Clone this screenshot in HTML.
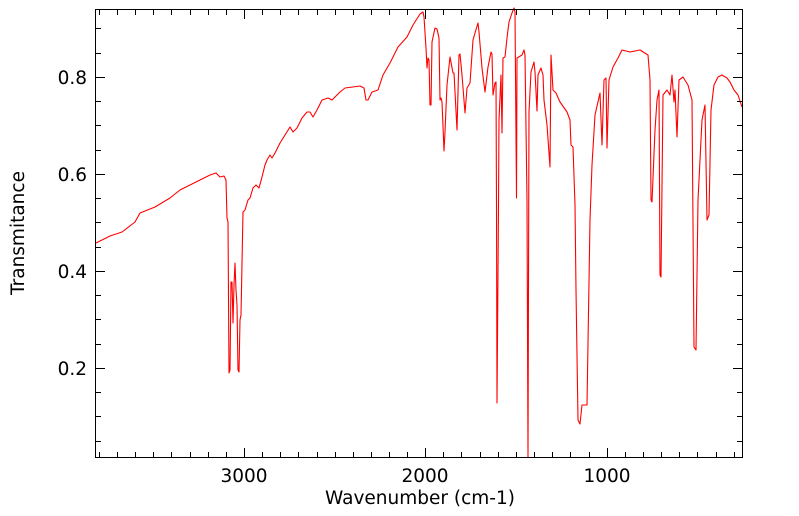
<!DOCTYPE html>
<html><head><style>body{margin:0;background:#fff}svg{display:block}text{font-family:"DejaVu Sans","Liberation Sans",sans-serif;fill:#000}</style></head><body>
<svg width="799" height="516" viewBox="0 0 799 516" xmlns="http://www.w3.org/2000/svg">
<rect width="799" height="516" fill="#fff"/>
<polyline fill="none" stroke="#f00" stroke-width="1.1" stroke-linejoin="round" points="
96,243 110,236 122,232 135,222 140,213 155,207 170,198 180,190 190,185 200,180 210,175 216,173 220,177 224,176 226,180 227,218 228,222 229,373 230,370 231,282 232,282 233,323 234,285 235,263 236,290 237,305 238,370 239,372 240,320 241,315 243,212 245,210 248,200 250,198 253,188 256,185 259,188 262,177 265,165 267,160 270,155 272,158 275,153 280,143 285,135 290,127 293,132 297,128 302,118 307,112 310,112 313,117 317,110 322,100 328,98 332,100 340,92 345,88 360,86 364,88 366,100 368,100 372,92 378,90 383,75 390,63 398,47 407,37 413,25 420,14 423,12 424,17 426,48 427,68 428,58 429,60 430,105 431,105 432,42 435,28 437,29 439,38 440,100 441,98 442,102 444,151 445,132 447,85 450,57 453,73 454,73 457,130 459,55 460,54 462,75 465,113 467,88 470,83 473,40 475,33 478,23 479,32 482,68 485,92 488,67 491,52 492,54 493,95 495,83 496,82 496.5,205 497,403 498.5,205 499,120 501,75 502,133 503,58 505,57 507,38 509,22 512,13 514,8 515,12 516.5,198 517,58 522,55 524,50 525,55 527,200 528,457 529,112 531,72 534,62 535,72 537,111 538,75 541,68 543,75 544,100 547,125 550,167 551,55 553,90 556,93 560,102 567,112 570,120 571,145 573,147 575,205 576,290 578,420 580,424 582,405 587,405 590,220 592,165 595,115 600,93 602,145 604,80 606,78 607,148 609,80 613,67 618,58 622,50 630,52 640,50 648,55 650,80 651,200 652,202 655,130 657,100 659,90 660,275 661,277 663,95 667,90 670,95 672,75 674,102 675,90 677,137 679,80 683,77 688,85 692,100 694,347 696,350 698,200 702,120 705,105 707,220 709,215 711,110 714,85 718,77 722,75 727,78 730,82 734,90 738,95 742,107"/>
<path fill="none" stroke="#000" stroke-width="1" d="
M99.5,457v-5M117.5,457v-5M135.5,457v-5M153.5,457v-5M171.5,457v-5M190.5,457v-5M208.5,457v-5M226.5,457v-5M244.5,457v-9M262.5,457v-5M280.5,457v-5M298.5,457v-5M317.5,457v-5M335.5,457v-5M353.5,457v-5M371.5,457v-5M389.5,457v-5M407.5,457v-5M425.5,457v-9M443.5,457v-5M461.5,457v-5M480.5,457v-5M498.5,457v-5M516.5,457v-5M534.5,457v-5M552.5,457v-5M570.5,457v-5M589.5,457v-5M607.5,457v-9M625.5,457v-5M643.5,457v-5M661.5,457v-5M679.5,457v-5M697.5,457v-5M716.5,457v-5M734.5,457v-5
M99.5,10v5M117.5,10v5M135.5,10v5M153.5,10v5M171.5,10v5M190.5,10v5M208.5,10v5M226.5,10v5M244.5,10v9M262.5,10v5M280.5,10v5M298.5,10v5M317.5,10v5M335.5,10v5M353.5,10v5M371.5,10v5M389.5,10v5M407.5,10v5M425.5,10v9M443.5,10v5M461.5,10v5M480.5,10v5M498.5,10v5M516.5,10v5M534.5,10v5M552.5,10v5M570.5,10v5M589.5,10v5M607.5,10v9M625.5,10v5M643.5,10v5M661.5,10v5M679.5,10v5M697.5,10v5M716.5,10v5M734.5,10v5
M96,441.5h5M96,416.5h5M96,392.5h5M96,368.5h9M96,344.5h5M96,319.5h5M96,295.5h5M96,271.5h9M96,247.5h5M96,222.5h5M96,198.5h5M96,174.5h9M96,150.5h5M96,125.5h5M96,101.5h5M96,77.5h9M96,53.5h5M96,28.5h5
M742,441.5h-5M742,416.5h-5M742,392.5h-5M742,368.5h-9M742,344.5h-5M742,319.5h-5M742,295.5h-5M742,271.5h-9M742,247.5h-5M742,222.5h-5M742,198.5h-5M742,174.5h-9M742,150.5h-5M742,125.5h-5M742,101.5h-5M742,77.5h-9M742,53.5h-5M742,28.5h-5"/>
<rect x="95.5" y="9.5" width="647" height="448" fill="none" stroke="#000" stroke-width="1"/>
<g font-size="18.5" text-anchor="end">
<text x="87" y="375">0.2</text><text x="87" y="278">0.4</text><text x="87" y="181">0.6</text><text x="87" y="84">0.8</text>
</g>
<g font-size="18.5" text-anchor="middle">
<text x="244" y="482">3000</text><text x="425" y="482">2000</text><text x="607" y="482">1000</text>
<text x="420" y="504">Wavenumber (cm-1)</text>
<text transform="translate(24,233) rotate(-90)">Transmitance</text>
</g>
</svg>
</body></html>
